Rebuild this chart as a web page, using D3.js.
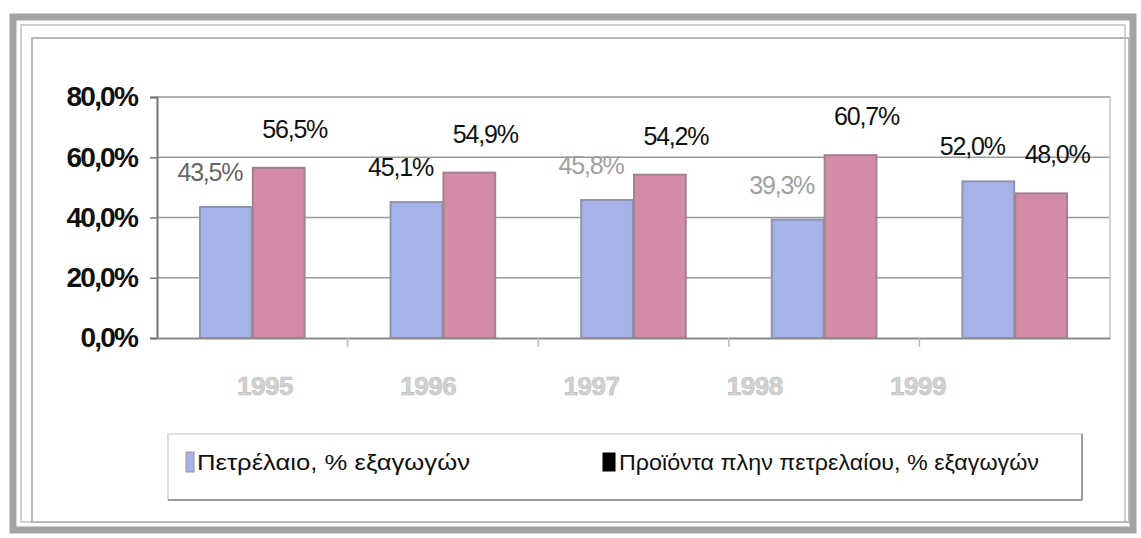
<!DOCTYPE html>
<html>
<head>
<meta charset="utf-8">
<script src="https://cdn.jsdelivr.net/npm/d3@7"></script>
<style>
  html, body { margin: 0; padding: 0; background: #fff; }
  svg { display: block; font-family: "Liberation Sans", Arial, sans-serif; }
</style>
</head>
<body>
<div id="chart"></div>
<script>
// ---- data ----
const years = ["1995", "1996", "1997", "1998", "1999"];
const oilShare = [43.5, 45.1, 45.8, 39.3, 52.0];        // Πετρέλαιο, % εξαγωγών
const nonOilShare = [56.5, 54.9, 54.2, 60.7, 48.0];     // Προϊόντα πλην πετρελαίου, % εξαγωγών
const seriesNames = ["Πετρέλαιο, % εξαγωγών", "Προϊόντα πλην πετρελαίου, % εξαγωγών"];
const yTicks = [0, 20, 40, 60, 80];

// ---- styles (not data) ----
const W = 1141, H = 538;
const colors = ["#a7b2ea", "#d38ba7"];
const strokes = ["#8f95ae", "#a08290"];
const oilLabelColors = ["#666", "#111", "#a0a0a0", "#a0a0a0", "#111"];
const fmt = v => d3.format(".1f")(v).replace(".", ",") + "%";

const svg = d3.select("#chart").append("svg").attr("width", W).attr("height", H);
svg.append("rect").attr("width", W).attr("height", H).attr("fill", "#fff");

// frame
svg.append("rect").attr("x", 13).attr("y", 17).attr("width", 1120).attr("height", 513)
  .attr("fill", "none").attr("stroke", "#a3a3a3").attr("stroke-width", 7);
svg.append("rect").attr("x", 21).attr("y", 25).attr("width", 1104).attr("height", 497)
  .attr("fill", "none").attr("stroke", "#d0d0d0").attr("stroke-width", 2);
svg.append("rect").attr("x", 32).attr("y", 38).attr("width", 1097).attr("height", 484)
  .attr("fill", "none").attr("stroke", "#b8b8b8").attr("stroke-width", 2);

// scales
const plot = { left: 157, right: 1110, top: 97, bottom: 338 };
const x = d3.scaleBand().domain(years).range([plot.left, plot.right]).paddingInner(0).paddingOuter(0);
const groupW = x.bandwidth() * 0.56;
const xs = d3.scaleBand().domain([0, 1]).range([(x.bandwidth() - groupW) / 2, (x.bandwidth() + groupW) / 2]).padding(0.02);
const y = d3.scaleLinear().domain([0, 80]).range([plot.bottom, plot.top]);
const xLabel = d3.scalePoint().domain(years).range([265, 918]);

// gridlines
svg.append("g").selectAll("line").data(yTicks.filter(d => d > 0)).join("line")
  .attr("x1", plot.left).attr("x2", plot.right)
  .attr("y1", d => y(d)).attr("y2", d => y(d))
  .attr("stroke", "#9a9a9a").attr("stroke-width", 1.5);
// right border of plot area
svg.append("line").attr("x1", plot.right).attr("x2", plot.right)
  .attr("y1", plot.top).attr("y2", plot.bottom).attr("stroke", "#c4c4c4").attr("stroke-width", 1.5);

// y axis
const yAxis = svg.append("g").attr("transform", `translate(${plot.left},0)`)
  .call(d3.axisLeft(y).tickValues(yTicks).tickSize(7).tickFormat(fmt));
yAxis.select(".domain").attr("stroke", "#777").attr("stroke-width", 2);
yAxis.selectAll(".tick line").attr("stroke", "#777").attr("stroke-width", 1.5);
yAxis.selectAll(".tick text")
  .attr("x", -20)
  .attr("font-size", 28).attr("font-weight", "bold").attr("letter-spacing", -1.8)
  .attr("fill", "#111");

// bars
const groups = svg.append("g").selectAll("g").data(years).join("g")
  .attr("transform", d => `translate(${x(d)},0)`);
const seriesVals = [oilShare, nonOilShare];
groups.each(function (yr, i) {
  const g = d3.select(this);
  [0, 1].forEach(s => {
    const v = seriesVals[s][i];
    g.append("rect")
      .attr("x", xs(s)).attr("width", xs.bandwidth())
      .attr("y", y(v)).attr("height", y(0) - y(v))
      .attr("fill", colors[s]).attr("stroke", strokes[s]).attr("stroke-width", 2);
  });
});

// x axis
const xAxis = svg.append("g").attr("transform", `translate(0,${plot.bottom})`)
  .call(d3.axisBottom(x).tickSize(0).tickFormat(""));
xAxis.select(".domain").attr("stroke", "#8a8a8a").attr("stroke-width", 2);
svg.append("g").selectAll("line").data(years.slice(1)).join("line")
  .attr("x1", d => x(d)).attr("x2", d => x(d))
  .attr("y1", plot.bottom).attr("y2", plot.bottom + 9)
  .attr("stroke", "#bbb").attr("stroke-width", 1.5);

// category labels
svg.append("g").selectAll("text").data(years).join("text")
  .attr("x", d => xLabel(d)).attr("y", 395)
  .attr("text-anchor", "middle").attr("font-size", 26).attr("font-weight", "bold")
  .attr("letter-spacing", -0.5)
  .attr("fill", "#d2d2d2").attr("stroke", "#bdbdbd").attr("stroke-width", 0.6)
  .text(d => d);

// data labels
groups.each(function (yr, i) {
  const g = d3.select(this);
  g.append("text")
    .attr("x", xs(0) + xs.bandwidth() / 2 - 16).attr("y", y(oilShare[i]) - 26)
    .attr("text-anchor", "middle").attr("font-size", 25).attr("letter-spacing", -1.2)
    .attr("fill", oilLabelColors[i]).text(fmt(oilShare[i]));
  g.append("text")
    .attr("x", xs(1) + xs.bandwidth() / 2 + 16).attr("y", y(nonOilShare[i]) - 30)
    .attr("text-anchor", "middle").attr("font-size", 25).attr("letter-spacing", -1.2)
    .attr("fill", "#111").text(fmt(nonOilShare[i]));
});

// legend
const lg = svg.append("g");
lg.append("rect").attr("x", 168).attr("y", 434).attr("width", 914).attr("height", 66)
  .attr("fill", "#fff").attr("stroke", "#d4d4d4").attr("stroke-width", 1.5);
lg.append("line").attr("x1", 168).attr("x2", 1082).attr("y1", 500).attr("y2", 500)
  .attr("stroke", "#9a9a9a").attr("stroke-width", 2);
lg.append("line").attr("x1", 1082).attr("x2", 1082).attr("y1", 434).attr("y2", 500)
  .attr("stroke", "#9a9a9a").attr("stroke-width", 2);
const legendItems = [
  { swX: 186, swW: 8, swH: 20, fill: colors[0], tx: 197, len: 273 },
  { swX: 603, swW: 12, swH: 18, fill: "#000", tx: 619, len: 420 }
];
legendItems.forEach((it, k) => {
  lg.append("rect").attr("x", it.swX).attr("y", 462 - it.swH / 2).attr("width", it.swW).attr("height", it.swH)
    .attr("fill", it.fill).attr("stroke", k === 0 ? "#999" : "#000").attr("stroke-width", 1);
  lg.append("text").attr("x", it.tx).attr("y", 470)
    .attr("font-size", 22).attr("fill", "#111")
    .attr("textLength", it.len).attr("lengthAdjust", "spacingAndGlyphs")
    .text(seriesNames[k]);
});
</script>
</body>
</html>
